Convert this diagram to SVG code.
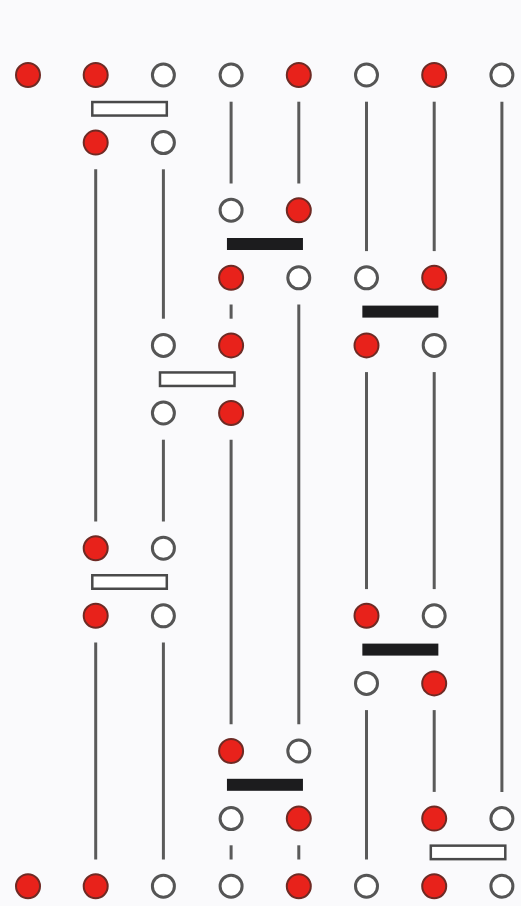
<svg xmlns="http://www.w3.org/2000/svg" width="521" height="906" viewBox="0 0 521 906">
<style>
.bg{fill:#fafafc}
.r{fill:#e8221b;stroke:#6e2a24;stroke-width:2}
.o{fill:#ffffff;stroke:#555555;stroke-width:3}
.w{fill:#ffffff;stroke:#4a4a4a;stroke-width:2.5}
.b{fill:#1c1c1e}
.wire{stroke:#5a5a5a;stroke-width:3;fill:none}
</style>
<rect class="bg" x="0" y="0" width="521" height="906"/>
<g id="connectors">
<line class="wire" x1="95.7" y1="169.3" x2="95.7" y2="521.5"/>
<line class="wire" x1="95.7" y1="642.5" x2="95.7" y2="859.5"/>
<line class="wire" x1="163.4" y1="169.3" x2="163.4" y2="318.7"/>
<line class="wire" x1="163.4" y1="439.7" x2="163.4" y2="521.5"/>
<line class="wire" x1="163.4" y1="642.5" x2="163.4" y2="859.5"/>
<line class="wire" x1="231.1" y1="101.7" x2="231.1" y2="183.5"/>
<line class="wire" x1="231.1" y1="304.5" x2="231.1" y2="318.7"/>
<line class="wire" x1="231.1" y1="439.7" x2="231.1" y2="724.3"/>
<line class="wire" x1="231.1" y1="845.3" x2="231.1" y2="859.5"/>
<line class="wire" x1="298.8" y1="101.7" x2="298.8" y2="183.5"/>
<line class="wire" x1="298.8" y1="304.5" x2="298.8" y2="724.3"/>
<line class="wire" x1="298.8" y1="845.3" x2="298.8" y2="859.5"/>
<line class="wire" x1="366.5" y1="101.7" x2="366.5" y2="251.1"/>
<line class="wire" x1="366.5" y1="372.1" x2="366.5" y2="589.1"/>
<line class="wire" x1="366.5" y1="710.1" x2="366.5" y2="859.5"/>
<line class="wire" x1="434.2" y1="101.7" x2="434.2" y2="251.1"/>
<line class="wire" x1="434.2" y1="372.1" x2="434.2" y2="589.1"/>
<line class="wire" x1="434.2" y1="710.1" x2="434.2" y2="791.9"/>
<line class="wire" x1="501.9" y1="101.7" x2="501.9" y2="791.9"/>
</g>
<g id="comparators">
<g id="cmp1"><rect class="w" x="92.3" y="102.05" width="74.5" height="13.5"/></g>
<g id="cmp2"><rect class="b" x="226.95" y="238" width="76" height="12"/></g>
<g id="cmp3"><rect class="b" x="362.35" y="305.6" width="76" height="12"/></g>
<g id="cmp4"><rect class="w" x="160" y="372.45" width="74.5" height="13.5"/></g>
<g id="cmp5"><rect class="w" x="92.3" y="575.25" width="74.5" height="13.5"/></g>
<g id="cmp6"><rect class="b" x="362.35" y="643.6" width="76" height="12"/></g>
<g id="cmp7"><rect class="b" x="226.95" y="778.8" width="76" height="12"/></g>
<g id="cmp8"><rect class="w" x="430.8" y="845.65" width="74.5" height="13.5"/></g>
</g>
<g id="nodes">
<g id="n0-0"><circle class="r" cx="28" cy="75" r="12"/></g>
<g id="n1-0"><circle class="r" cx="95.7" cy="75" r="12"/></g>
<g id="n2-0"><circle class="o" cx="163.4" cy="75" r="11"/></g>
<g id="n3-0"><circle class="o" cx="231.1" cy="75" r="11"/></g>
<g id="n4-0"><circle class="r" cx="298.8" cy="75" r="12"/></g>
<g id="n5-0"><circle class="o" cx="366.5" cy="75" r="11"/></g>
<g id="n6-0"><circle class="r" cx="434.2" cy="75" r="12"/></g>
<g id="n7-0"><circle class="o" cx="501.9" cy="75" r="11"/></g>
<g id="n1-1"><circle class="r" cx="95.7" cy="142.6" r="12"/></g>
<g id="n2-1"><circle class="o" cx="163.4" cy="142.6" r="11"/></g>
<g id="n3-2"><circle class="o" cx="231.1" cy="210.2" r="11"/></g>
<g id="n4-2"><circle class="r" cx="298.8" cy="210.2" r="12"/></g>
<g id="n3-3"><circle class="r" cx="231.1" cy="277.8" r="12"/></g>
<g id="n4-3"><circle class="o" cx="298.8" cy="277.8" r="11"/></g>
<g id="n5-3"><circle class="o" cx="366.5" cy="277.8" r="11"/></g>
<g id="n6-3"><circle class="r" cx="434.2" cy="277.8" r="12"/></g>
<g id="n2-4"><circle class="o" cx="163.4" cy="345.4" r="11"/></g>
<g id="n3-4"><circle class="r" cx="231.1" cy="345.4" r="12"/></g>
<g id="n5-4"><circle class="r" cx="366.5" cy="345.4" r="12"/></g>
<g id="n6-4"><circle class="o" cx="434.2" cy="345.4" r="11"/></g>
<g id="n2-5"><circle class="o" cx="163.4" cy="413" r="11"/></g>
<g id="n3-5"><circle class="r" cx="231.1" cy="413" r="12"/></g>
<g id="n1-7"><circle class="r" cx="95.7" cy="548.2" r="12"/></g>
<g id="n2-7"><circle class="o" cx="163.4" cy="548.2" r="11"/></g>
<g id="n1-8"><circle class="r" cx="95.7" cy="615.8" r="12"/></g>
<g id="n2-8"><circle class="o" cx="163.4" cy="615.8" r="11"/></g>
<g id="n5-8"><circle class="r" cx="366.5" cy="615.8" r="12"/></g>
<g id="n6-8"><circle class="o" cx="434.2" cy="615.8" r="11"/></g>
<g id="n5-9"><circle class="o" cx="366.5" cy="683.4" r="11"/></g>
<g id="n6-9"><circle class="r" cx="434.2" cy="683.4" r="12"/></g>
<g id="n3-10"><circle class="r" cx="231.1" cy="751" r="12"/></g>
<g id="n4-10"><circle class="o" cx="298.8" cy="751" r="11"/></g>
<g id="n3-11"><circle class="o" cx="231.1" cy="818.6" r="11"/></g>
<g id="n4-11"><circle class="r" cx="298.8" cy="818.6" r="12"/></g>
<g id="n6-11"><circle class="r" cx="434.2" cy="818.6" r="12"/></g>
<g id="n7-11"><circle class="o" cx="501.9" cy="818.6" r="11"/></g>
<g id="n0-12"><circle class="r" cx="28" cy="886.2" r="12"/></g>
<g id="n1-12"><circle class="r" cx="95.7" cy="886.2" r="12"/></g>
<g id="n2-12"><circle class="o" cx="163.4" cy="886.2" r="11"/></g>
<g id="n3-12"><circle class="o" cx="231.1" cy="886.2" r="11"/></g>
<g id="n4-12"><circle class="r" cx="298.8" cy="886.2" r="12"/></g>
<g id="n5-12"><circle class="o" cx="366.5" cy="886.2" r="11"/></g>
<g id="n6-12"><circle class="r" cx="434.2" cy="886.2" r="12"/></g>
<g id="n7-12"><circle class="o" cx="501.9" cy="886.2" r="11"/></g>
</g>
</svg>
